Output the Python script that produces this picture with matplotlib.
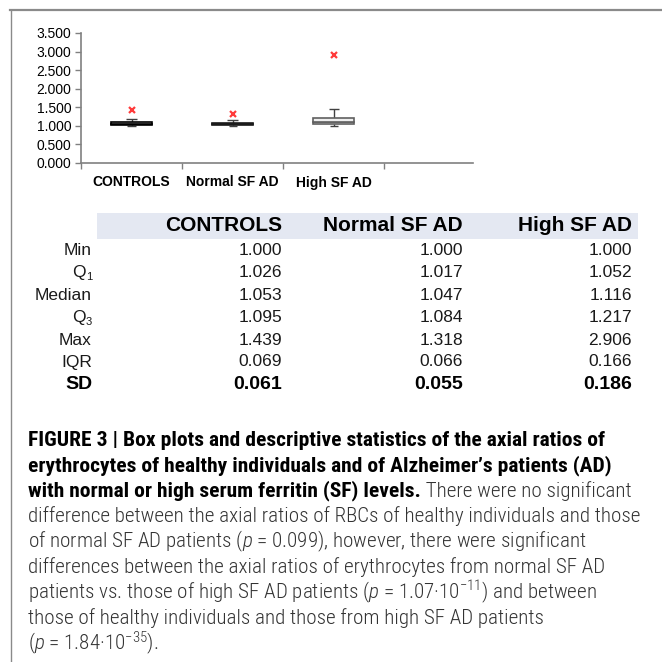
import matplotlib
matplotlib.use('Agg')
from matplotlib import pyplot as plt
from matplotlib.patches import Rectangle
from matplotlib.lines import Line2D

categories = ['CONTROLS', 'Normal SF AD', 'High SF AD']
mins = [1.000, 1.000, 1.000]
q1 = [1.026, 1.017, 1.052]
medians = [1.053, 1.047, 1.116]
q3 = [1.095, 1.084, 1.217]
maxs = [1.439, 1.318, 2.906]
iqr = [0.069, 0.066, 0.166]
sd = [0.061, 0.055, 0.186]
# upper whisker ends
whisker_top = [1.19, 1.17, 1.45]
yticks = [0.0, 0.5, 1.0, 1.5, 2.0, 2.5, 3.0, 3.5]

# (label, subscript) for the table rows
row_labels = [('Min', ''), ('Q', '1'), ('Median', ''), ('Q', '3'), ('Max', ''), ('IQR', '')]
row_values = [mins, q1, medians, q3, maxs, iqr]

cap_family = ['Roboto Condensed', 'Roboto', 'Liberation Sans']
plt.rcParams['font.family'] = ['Liberation Sans', 'DejaVu Sans']
plt.rcParams['mathtext.fontset'] = 'custom'
plt.rcParams['mathtext.rm'] = 'Roboto Condensed:light'
plt.rcParams['mathtext.it'] = 'Roboto Condensed:italic:light'

W = H = 662
fig = plt.figure(figsize=(6.62, 6.62), dpi=100)


def fx(px):
    return px / W


def fy(py):
    return 1 - py / H


# frame lines (top and left)
fig.add_artist(Line2D([fx(10), 1], [fy(10), fy(10)], color='#8a8a8a', lw=1.6))
fig.add_artist(Line2D([fx(11), fx(11)], [fy(10), 0], color='#8a8a8a', lw=1.0))

# ---- box plot ----
ax = fig.add_axes([fx(81), fy(163), fx(473) - fx(81), fy(33) - fy(163)])
x = [1, 2, 3]
fills = ['#d0d0d0', '#8a8a8a', '#eeeeee']
edges = ['#000000', '#1a1a1a', '#606060']
for i in range(3):
    ax.vlines(x[i], q3[i], whisker_top[i], color='#404040', lw=1.0, zorder=1)
    ax.hlines(whisker_top[i], x[i] - 0.05, x[i] + 0.05, color='#404040', lw=1.0)
    ax.vlines(x[i], mins[i], q1[i], color='#404040', lw=1.0, zorder=1)
    ax.hlines(mins[i], x[i] - 0.04, x[i] + 0.04, color='#404040', lw=1.0)
    ax.bar(x[i], medians[i] - q1[i], bottom=q1[i], width=0.4, color=fills[i],
           edgecolor=edges[i], lw=1.2, zorder=2)
    ax.bar(x[i], q3[i] - medians[i], bottom=medians[i], width=0.4, color=fills[i],
           edgecolor=edges[i], lw=1.2, zorder=2)
ax.plot(x, maxs, 'x', color='#ff3b3b', markersize=4.5, mew=1.6, zorder=3)

ax.set_ylim(0, 3.5)
ax.set_xlim(0.5, 4.38)
ax.set_yticks(yticks)
ax.set_yticklabels([f'{v:.3f}' for v in yticks], fontsize=10)
ax.set_xticks([0.5, 1.5, 2.5, 3.5], labels=[])
ax.set_xticks(x, labels=categories, minor=True, fontsize=10, fontweight='bold')
ax.tick_params(axis='x', which='minor', length=0, pad=9)
ax.tick_params(axis='both', which='major', length=4, width=1, color='#808080')
ax.tick_params(axis='y', pad=3)
for s in ['top', 'right']:
    ax.spines[s].set_visible(False)
for s in ['left', 'bottom']:
    ax.spines[s].set_color('#808080')
    ax.spines[s].set_linewidth(1.2)
ax.patch.set_alpha(0)

# ---- statistics table ----
fig.add_artist(Rectangle((fx(97), fy(239)), fx(638) - fx(97), fy(213) - fy(239),
                         facecolor='#e4e8f2', edgecolor='none'))
col_right = [282, 463, 632]
for j, name in enumerate(categories):
    fig.text(fx(col_right[j]), fy(226), name, ha='right', va='center',
             fontsize=15, fontweight='bold')
row_y = [250, 272.5, 295, 317, 340, 362]
for r, ((lab, sub), vals) in enumerate(zip(row_labels, row_values)):
    if sub:
        fig.text(fx(92), fy(row_y[r] + 5), sub, ha='right', va='center', fontsize=8,
                 color='#1a1a1a')
        fig.text(fx(86), fy(row_y[r]), lab, ha='right', va='center', fontsize=12.5,
                 color='#1a1a1a')
    else:
        fig.text(fx(92), fy(row_y[r]), lab, ha='right', va='center', fontsize=12.5,
                 color='#1a1a1a')
    for j in range(3):
        fig.text(fx(col_right[j]), fy(row_y[r]), f'{vals[j]:.3f}', ha='right',
                 va='center', fontsize=12.5, color='#1a1a1a')
fig.text(fx(92), fy(384), 'SD', ha='right', va='center', fontsize=14, fontweight='bold')
for j in range(3):
    fig.text(fx(col_right[j]), fy(384), f'{sd[j]:.3f}', ha='right', va='center',
             fontsize=14, fontweight='bold')

# ---- caption ----
cap_x = fx(28)
line_y = [440.7, 466.2, 491.7, 517.2, 542.7, 568.2, 593.7, 619.2, 644.7]
bold_lines = [
    'FIGURE 3 | Box plots and descriptive statistics of the axial ratios of',
    'erythrocytes of healthy individuals and of Alzheimer\u2019s patients (AD)',
    'with normal or high serum ferritin (SF) levels.',
]
plain_lines = [
    ' There were no significant',
    'difference between the axial ratios of RBCs of healthy individuals and those',
    'of normal SF AD patients ($p$ = 0.099), however, there were significant',
    'differences between the axial ratios of erythrocytes from normal SF AD',
    'patients vs. those of high SF AD patients ($p$ = 1.07\u00b710$^{\u221211}$) and between',
    'those of healthy individuals and those from high SF AD patients',
    '($p$ = 1.84\u00b710$^{\u221235}$).',
]

# size the caption so its widest lines fit the reference widths
renderer = fig.canvas.get_renderer()
probe = fig.text(0, 0, plain_lines[1], fontsize=10, fontweight='light', family=cap_family)
w_plain = probe.get_window_extent(renderer).width
probe.remove()
probe = fig.text(0, 0, bold_lines[0], fontsize=10, fontweight='bold', family=cap_family)
w_bold = probe.get_window_extent(renderer).width
probe.remove()
fs_plain = 10 * 612 / w_plain
fs_bold = 10 * 576 / w_bold

bold_artists = []
for i, t in enumerate(bold_lines):
    bold_artists.append(fig.text(cap_x, fy(line_y[i] + 5), t, ha='left', va='baseline',
                                 fontsize=fs_bold, fontweight='bold', color='black',
                                 family=cap_family))
bb = bold_artists[2].get_window_extent(renderer)
fig.text(bb.x1 / W, fy(line_y[2] + 5), plain_lines[0], ha='left', va='baseline',
         fontsize=fs_plain, fontweight='light', color='#333333', family=cap_family)
for k, t in enumerate(plain_lines[1:]):
    fig.text(cap_x, fy(line_y[3 + k] + 5), t, ha='left', va='baseline',
             fontsize=fs_plain, fontweight='light', color='#333333', family=cap_family)

fig.savefig('out.png', dpi=100)
